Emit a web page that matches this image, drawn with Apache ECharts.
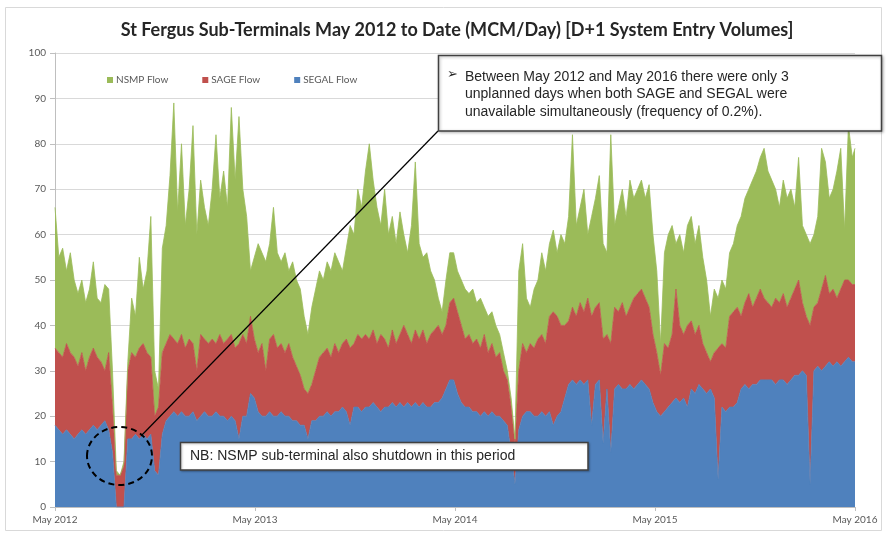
<!DOCTYPE html>
<html>
<head>
<meta charset="utf-8">
<script src="https://cdn.jsdelivr.net/npm/echarts@6/dist/echarts.min.js"></script>
<style>html,body{margin:0;padding:0;background:#fff}#c{width:888px;height:536px}</style>
</head>
<body>
<div id="c"></div>
<script>
// Weekly samples starting 1 May 2012 (day step 7)
const dayStep = 7;
const lastDay = 1461;
const xTickLabels = ['May 2012', 'May 2013', 'May 2014', 'May 2015', 'May 2016'];
const seriesNames = ['NSMP Flow', 'SAGE Flow', 'SEGAL Flow'];

const segal = [
  18,17,16,17,16,15,16,17,16,17,
  18,17,18,19,17,12,0,0,0,15,
  15,16,15,16,15,16,8,7,16,19,
  20,21,20,21,20,20,21,19,20,21,
  20,20,21,20,20,19,20,19,15,20,
  20,25,24,21,20,20,21,20,20,21,
  20,20,19,19,18,18,15,19,19,20,
  20,21,20,21,21,22,21,18,22,22,
  21,22,22,23,22,21,22,22,23,22,
  23,22,23,22,23,22,23,22,22,23,
  23,24,26,28,28,25,23,22,22,21,
  21,20,21,20,21,20,20,19,18,12,
  5,17,20,21,21,20,20,21,20,21,
  18,20,21,24,27,28,27,28,27,28,
  18,27,28,14,26,12,26,27,26,26,
  27,26,27,28,27,26,23,21,20,21,
  22,23,24,23,24,22,26,25,27,26,
  25,26,24,6,22,21,22,22,23,26,
  27,26,27,27,28,28,28,28,27,28,
  28,27,28,29,29,30,29,5,30,31,
  30,31,32,31,32,31,32,33,32,32
];
const sage = [
  17,17,17,19,18,18,15,17,14,16,
  17,16,14,11,17,10,7,7,9,15,
  19,17,20,20,19,17,12,15,18,17,
  18,16,16,17,15,17,15,11,18,16,
  16,17,15,18,16,18,18,16,21,18,
  16,17,13,13,16,10,16,18,15,15,
  14,16,14,12,11,8,10,8,11,13,
  14,14,13,15,13,14,16,17,14,16,
  16,16,15,16,14,17,15,13,16,14,
  15,18,15,14,16,15,16,14,16,16,
  17,14,14,17,18,18,17,15,16,15,
  16,15,17,14,15,13,14,11,10,10,
  9,13,16,13,15,15,17,17,16,21,
  25,22,19,16,14,16,15,17,16,18,
  24,17,17,23,12,24,18,16,19,16,
  17,20,20,20,19,18,15,13,9,15,
  13,15,24,17,14,18,15,13,13,10,
  9,6,10,29,14,14,20,21,21,16,
  18,21,17,19,20,18,17,16,19,17,
  19,17,18,19,21,15,13,35,14,14,
  18,20,15,17,14,17,18,17,17,17
];
const nsmp = [
  31,21,24,16,22,17,16,16,15,15,
  19,13,13,19,14,8,1,0,1,2,
  12,9,20,12,18,31,10,4,23,26,
  35,52,29,42,27,33,48,30,34,29,
  26,33,46,30,38,29,50,37,50,32,
  28,10,18,24,20,24,21,28,21,18,
  22,16,21,19,19,16,13,17,18,19,
  16,19,19,20,20,16,20,27,24,32,
  29,36,43,33,30,24,33,25,25,22,
  27,20,18,26,37,21,16,20,14,11,
  6,5,10,11,10,9,10,11,9,12,
  8,11,6,8,7,7,4,4,2,2,
  1,22,22,12,8,13,13,18,16,16,
  18,14,20,18,23,38,20,21,27,14,
  22,24,28,21,18,46,18,23,25,22,
  28,22,23,24,22,27,22,18,7,20,
  25,24,10,20,18,22,23,20,22,19,
  16,10,14,11,14,13,14,15,18,22,
  23,23,28,28,29,33,29,28,24,21,
  25,24,24,18,27,17,18,18,16,19,
  31,25,21,22,28,31,11,34,28,30
];

const colors = { nsmp: '#9BBB59', sage: '#C0504D', segal: '#4F81BD' };

const DAY = 86400000;
const t0 = Date.UTC(2012, 4, 1);
const tEnd = Date.UTC(2016, 4, 1);
const times = segal.map((_, i) => t0 + Math.min(i * dayStep, lastDay) * DAY);
const pairs = arr => arr.map((v, i) => [times[i], v]);

const chart = echarts.init(document.getElementById('c'), null, { renderer: 'canvas' });

function areaSeries(name, data, color) {
  return {
    name: name, type: 'line', stack: 'total', data: pairs(data),
    xAxisIndex: 0, yAxisIndex: 0,
    showSymbol: false, symbol: 'none', smooth: false,
    lineStyle: { width: 0.8, color: color },
    areaStyle: { color: color, opacity: 1 },
    itemStyle: { color: color },
    emphasis: { disabled: true }
  };
}

const annoFont = '"Liberation Sans", Arial, sans-serif';

chart.setOption({
  animation: false,
  backgroundColor: '#fff',
  title: {
    text: 'St Fergus Sub-Terminals May 2012 to Date (MCM/Day) [D+1 System Entry Volumes]',
    left: 452, top: 16, textAlign: 'center',
    textStyle: { fontFamily: 'Lato, "Open Sans", sans-serif', fontWeight: 'bold', fontSize: 18, color: '#262626' }
  },
  legend: {
    data: seriesNames, left: 102, top: 70, itemWidth: 6, itemHeight: 6, itemGap: 34,
    icon: 'rect',
    textStyle: { fontFamily: 'Lato, sans-serif', fontSize: 10, color: '#595959', padding: [0, 0, 0, -2] }
  },
  grid: { left: 55, right: 33, top: 53, bottom: 29, containLabel: false },
  xAxis: [
    {
      type: 'time', min: t0, max: tEnd, show: true,
      axisLine: { show: false }, axisTick: { show: false }, axisLabel: { show: false }, splitLine: { show: false }
    },
    {
      type: 'value', min: 0, max: 4, interval: 1, position: 'bottom',
      axisLine: { show: true, lineStyle: { color: '#BFBFBF' } },
      axisTick: { show: true, length: 4, lineStyle: { color: '#BFBFBF' } },
      splitLine: { show: false },
      axisLabel: {
        formatter: v => xTickLabels[Math.round(v)],
        fontFamily: 'Lato, sans-serif', fontSize: 10, color: '#595959', margin: 8
      }
    }
  ],
  yAxis: {
    type: 'value', min: 0, max: 100, interval: 10,
    axisLine: { show: true, lineStyle: { color: '#BFBFBF' } },
    axisTick: { show: true, length: 5, lineStyle: { color: '#BFBFBF' } },
    splitLine: { show: true, lineStyle: { color: '#D9D9D9', width: 1 } },
    axisLabel: { fontFamily: 'Lato, sans-serif', fontSize: 10, color: '#595959', margin: 9 }
  },
  series: [
    areaSeries('SEGAL Flow', segal, colors.segal),
    areaSeries('SAGE Flow', sage, colors.sage),
    areaSeries('NSMP Flow', nsmp, colors.nsmp)
  ],
  graphic: [
    { type: 'rect', z: 50, silent: true, shape: { x: 5.5, y: 7.5, width: 876, height: 523 },
      style: { fill: 'none', stroke: '#D9D9D9', lineWidth: 1 } },
    { type: 'line', z: 60, silent: true, shape: { x1: 438, y1: 131, x2: 141, y2: 436 },
      style: { stroke: '#000', lineWidth: 1.2 } },
    { type: 'ellipse', z: 60, silent: true, shape: { cx: 119.5, cy: 456, rx: 32.5, ry: 29 },
      style: { fill: 'none', stroke: '#000', lineWidth: 2, lineDash: [6, 4] } },
    { type: 'rect', z: 61, silent: true, shape: { x: 438.5, y: 55.5, width: 443, height: 75.5 },
      style: { fill: '#fff', stroke: '#404040', lineWidth: 1.5, shadowBlur: 3, shadowColor: 'rgba(0,0,0,0.3)', shadowOffsetX: 1, shadowOffsetY: 1 } },
    { type: 'text', z: 62, silent: true, x: 447, y: 68,
      style: { text: '\u27A2', font: '13px "DejaVu Sans", sans-serif', fill: '#262626', textVerticalAlign: 'top' } },
    { type: 'text', z: 62, silent: true, x: 465, y: 68,
      style: { text: 'Between May 2012 and May 2016 there were only 3\nunplanned days when both SAGE and SEGAL were\nunavailable simultaneously (frequency of 0.2%).',
        font: '14px ' + annoFont, fill: '#262626', lineHeight: 17.5, textVerticalAlign: 'top' } },
    { type: 'rect', z: 61, silent: true, shape: { x: 180.5, y: 442.5, width: 407.5, height: 27.5 },
      style: { fill: '#fff', stroke: '#404040', lineWidth: 1.5, shadowBlur: 2, shadowColor: 'rgba(0,0,0,0.25)', shadowOffsetX: 1, shadowOffsetY: 1 } },
    { type: 'text', z: 62, silent: true, x: 190, y: 456.5,
      style: { text: 'NB: NSMP sub-terminal also shutdown in this period', font: '14px ' + annoFont, fill: '#262626', textVerticalAlign: 'middle' } }
  ]
});
</script>
</body>
</html>
